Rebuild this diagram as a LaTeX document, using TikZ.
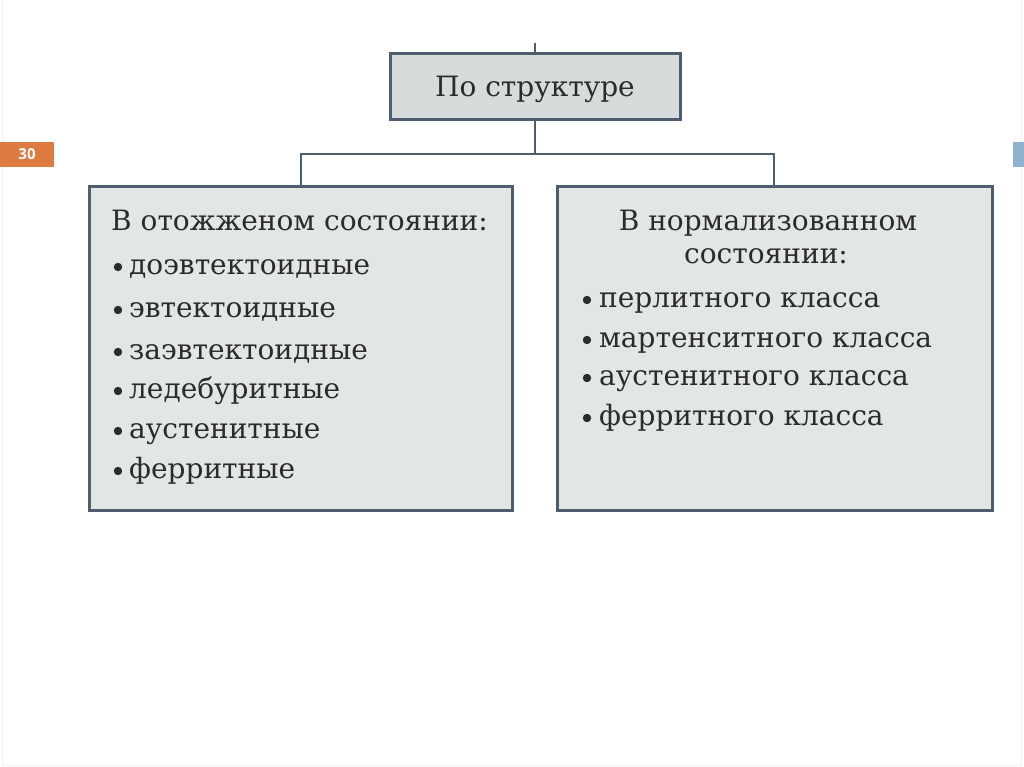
\documentclass[tikz,border=0pt]{standalone}
\usepackage{fontspec}
\setmainfont{DejaVu Serif}
\newfontfamily\numfont{Open Sans}
\definecolor{boxline}{HTML}{4F5E6E}
\definecolor{topfill}{HTML}{D8DBDC}
\definecolor{boxfill}{HTML}{E2E7E4}
\definecolor{txt}{HTML}{2B2B2B}
\definecolor{orangelbl}{HTML}{DE7B40}
\definecolor{bluesq}{HTML}{8FB0CF}
\tikzset{
  framebox/.style={draw=boxline, line width=3pt},
  conn/.style={draw=boxline, line width=2.8pt},
  itemtext/.style={anchor=base west, inner sep=0pt, text=txt, font=\fontsize{28}{32}\selectfont},
  headtext/.style={anchor=base, inner sep=0pt, text=txt, font=\fontsize{28}{32}\selectfont},
  bul/.style={fill=txt, draw=none},
}
\begin{document}
\begin{tikzpicture}[x=1pt,y=-1pt]
\useasboundingbox (0,0) rectangle (1024,767);
\fill[white] (0,0) rectangle (1024,767);
\draw[gray!12, line width=1pt] (2,0.5) -- (2,765) -- (1021,765) -- (1021,0.5);
% slide number and side mark
\fill[orangelbl] (0,142) rectangle (54,167);
\node[text=white, font=\numfont\bfseries\fontsize{15}{17}\selectfont] (num) at (27,154.5) {30};
\fill[bluesq] (1013,142) rectangle (1024,167);
% boxes
\draw[framebox, fill=topfill] (390,54) rectangle (680,120);
\coordinate (topbot) at (535,120);
\coordinate (toptop) at (535,54);
\coordinate (stem) at (535,43);
\draw[framebox, fill=boxfill] (89,187) rectangle (512,510);
\draw[framebox, fill=boxfill] (557,187) rectangle (992,510);
\coordinate (ltop) at (301,187);
\coordinate (rtop) at (774,187);
\coordinate (lj) at (301,154);
\coordinate (rj) at (774,154);
\coordinate (mj) at (535,154);
% connectors
\draw[conn, line width=2.2pt] (stem) -- (toptop);
\draw[conn] (topbot) -- (mj);
\draw[conn] (ltop) -- (lj) -- (rj) -- (rtop);
% top text
\node[headtext] (ttl) at (535,97) {По структуре};
% left box text
\node[itemtext] (lh) at (111,230) {В отожженом состоянии:};
\foreach \y/\t/\n in {274/доэвтектоидные/l1, 317/эвтектоидные/l2, 359/заэвтектоидные/l3, 398/ледебуритные/l4, 438/аустенитные/l5, 478/ферритные/l6}{
  \fill[bul] (118,\y-7) circle (4.2pt);
  \node[itemtext] (\n) at (129,\y) {\t};
}
% right box text
\node[headtext] (rh1) at (768,230) {В нормализованном};
\node[headtext] (rh2) at (766,263) {состоянии:};
\foreach \y/\t/\n in {307/перлитного класса/r1, 347/мартенситного класса/r2, 385/аустенитного класса/r3, 425/ферритного класса/r4}{
  \fill[bul] (587,\y-7) circle (4.2pt);
  \node[itemtext] (\n) at (599,\y) {\t};
}
\end{tikzpicture}
\end{document}
